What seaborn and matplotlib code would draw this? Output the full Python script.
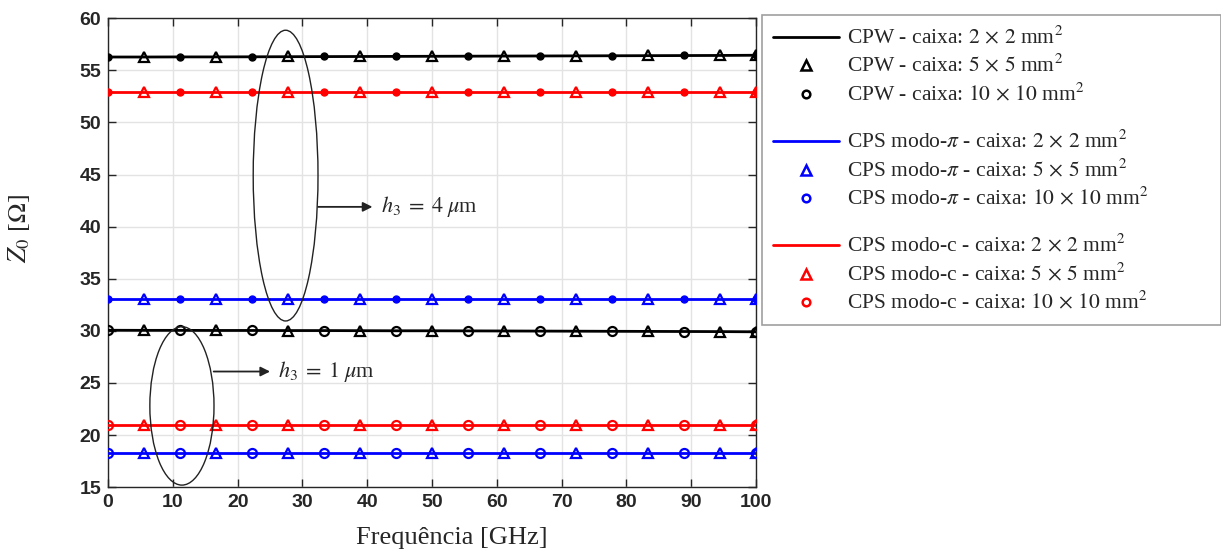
import matplotlib
matplotlib.use("Agg")
import matplotlib.pyplot as plt
from matplotlib.lines import Line2D
from matplotlib.patches import Ellipse
import seaborn as sns

# Frequency grid [GHz]
freq = [0.0, 5.56, 11.11, 16.67, 22.22, 27.78, 33.33, 38.89, 44.44, 50.0,
        55.56, 61.11, 66.67, 72.22, 77.78, 83.33, 88.89, 94.44, 100.0]
freq_5x5 = [5.56, 16.67, 27.78, 38.89, 50.0, 61.11, 72.22, 83.33, 94.44, 100.0]
freq_10x10 = [0.0, 11.11, 22.22, 33.33, 44.44, 55.56, 66.67, 77.78, 88.89, 100.0]

# h3 = 4 um
cpw_h4_2x2 = [56.28, 56.28, 56.29, 56.29, 56.30, 56.31, 56.32, 56.33, 56.34, 56.35,
              56.36, 56.37, 56.38, 56.39, 56.40, 56.41, 56.42, 56.43, 56.45]
cpw_h4_5x5 = [56.30, 56.31, 56.33, 56.35, 56.37, 56.39, 56.41, 56.44, 56.48, 56.46]
cpw_h4_10x10 = [56.28, 56.29, 56.31, 56.33, 56.35, 56.37, 56.39, 56.41, 56.43, 56.45]

cpsc_h4_2x2 = [52.93, 52.93, 52.93, 52.93, 52.93, 52.93, 52.93, 52.93, 52.93, 52.93,
               52.93, 52.93, 52.93, 52.93, 52.93, 52.93, 52.93, 52.93, 52.93]
cpsc_h4_5x5 = [52.93, 52.93, 52.93, 52.93, 52.93, 52.93, 52.93, 52.93, 52.93, 52.93]
cpsc_h4_10x10 = [52.93, 52.93, 52.93, 52.93, 52.93, 52.93, 52.93, 52.93, 52.93, 52.93]

cpspi_h4_2x2 = [33.02, 33.02, 33.02, 33.02, 33.02, 33.02, 33.02, 33.02, 33.02, 33.02,
                33.02, 33.02, 33.02, 33.02, 33.02, 33.02, 33.02, 33.02, 33.02]
cpspi_h4_5x5 = [33.02, 33.02, 33.02, 33.02, 33.02, 33.02, 33.02, 33.02, 33.02, 33.02]
cpspi_h4_10x10 = [33.02, 33.02, 33.02, 33.02, 33.02, 33.02, 33.02, 33.02, 33.02, 33.02]

# h3 = 1 um
cpw_h1_2x2 = [30.06, 30.05, 30.05, 30.04, 30.04, 30.03, 30.03, 30.02, 30.01, 30.01,
              30.00, 29.99, 29.98, 29.97, 29.96, 29.95, 29.94, 29.93, 29.91]
cpw_h1_5x5 = [30.05, 30.04, 30.03, 30.02, 30.01, 29.99, 29.97, 29.95, 29.93, 29.91]
cpw_h1_10x10 = [30.06, 30.05, 30.04, 30.03, 30.01, 30.00, 29.98, 29.96, 29.94, 29.91]

cpsc_h1_2x2 = [20.98, 20.98, 20.98, 20.98, 20.98, 20.98, 20.98, 20.98, 20.98, 20.98,
               20.98, 20.98, 20.98, 20.98, 20.98, 20.98, 20.98, 20.98, 20.98]
cpsc_h1_5x5 = [20.98, 20.98, 20.98, 20.98, 20.98, 20.98, 20.98, 20.98, 20.98, 20.98]
cpsc_h1_10x10 = [20.98, 20.98, 20.98, 20.98, 20.98, 20.98, 20.98, 20.98, 20.98, 20.98]

cpspi_h1_2x2 = [18.27, 18.27, 18.27, 18.27, 18.27, 18.27, 18.27, 18.27, 18.27, 18.27,
                18.27, 18.27, 18.27, 18.27, 18.27, 18.27, 18.27, 18.27, 18.27]
cpspi_h1_5x5 = [18.27, 18.27, 18.27, 18.27, 18.27, 18.27, 18.27, 18.27, 18.27, 18.27]
cpspi_h1_10x10 = [18.27, 18.27, 18.27, 18.27, 18.27, 18.27, 18.27, 18.27, 18.27, 18.27]

legend_labels = [
    r"CPW - caixa: $2\,\times\,2$ mm$^2$",
    r"CPW - caixa: $5\,\times\,5$ mm$^2$",
    r"CPW - caixa: $10\,\times\,10$ mm$^2$",
    r"CPS modo-$\pi$ - caixa: $2\,\times\,2$ mm$^2$",
    r"CPS modo-$\pi$ - caixa: $5\,\times\,5$ mm$^2$",
    r"CPS modo-$\pi$ - caixa: $10\,\times\,10$ mm$^2$",
    r"CPS modo-c - caixa: $2\,\times\,2$ mm$^2$",
    r"CPS modo-c - caixa: $5\,\times\,5$ mm$^2$",
    r"CPS modo-c - caixa: $10\,\times\,10$ mm$^2$",
]

sns.set_style("ticks")
plt.rcParams["font.family"] = ["Liberation Serif", "DejaVu Serif"]
plt.rcParams["mathtext.fontset"] = "stix"

BLACK, BLUE, RED = "#000000", "#0000ff", "#ff0000"

fig = plt.figure(figsize=(12.21, 5.53), dpi=100)
ax = fig.add_axes([0.0885, 0.119, 0.5307, 0.848])

groups = [
    (BLACK, cpw_h4_2x2, cpw_h4_5x5, cpw_h4_10x10, True),
    (RED, cpsc_h4_2x2, cpsc_h4_5x5, cpsc_h4_10x10, True),
    (BLUE, cpspi_h4_2x2, cpspi_h4_5x5, cpspi_h4_10x10, True),
    (BLACK, cpw_h1_2x2, cpw_h1_5x5, cpw_h1_10x10, False),
    (RED, cpsc_h1_2x2, cpsc_h1_5x5, cpsc_h1_10x10, False),
    (BLUE, cpspi_h1_2x2, cpspi_h1_5x5, cpspi_h1_10x10, False),
]

for color, y22, y55, y1010, filled in groups:
    sns.lineplot(x=freq, y=y22, color=color, linewidth=2.0, ax=ax, zorder=3)
    sns.lineplot(x=freq_5x5, y=y55, ax=ax, linestyle="", marker="^",
                 markersize=7.5, markerfacecolor="none", markeredgecolor=color,
                 markeredgewidth=1.6, zorder=4)
    if filled:
        sns.lineplot(x=freq_10x10, y=y1010, ax=ax, linestyle="", marker="o",
                     markersize=5, markerfacecolor=color, markeredgecolor=color,
                     markeredgewidth=1.0, zorder=4)
    else:
        sns.lineplot(x=freq_10x10, y=y1010, ax=ax, linestyle="", marker="o",
                     markersize=6.5, markerfacecolor="none", markeredgecolor=color,
                     markeredgewidth=1.6, zorder=4)

ax.set_xlim(0, 100)
ax.set_ylim(15, 60)
ax.set_xticks(range(0, 101, 10))
ax.set_yticks(range(15, 61, 5))
ax.grid(True, color="#e3e3e3", linewidth=1.0, zorder=0)
ax.tick_params(direction="in", top=True, right=True, length=6, width=1.0,
               colors="#262626", pad=5)
for lab in ax.get_xticklabels() + ax.get_yticklabels():
    lab.set_fontfamily("Liberation Sans")
    lab.set_fontweight("bold")
    lab.set_fontsize(14)
    lab.set_color("#262626")
for sp in ax.spines.values():
    sp.set_visible(True)
    sp.set_color("#262626")
    sp.set_linewidth(1.0)

ax.set_xlabel("Frequência [GHz]", fontsize=19)
ax.set_ylabel(r"$Z_0$ [$\Omega$]", fontsize=19)
ax.xaxis.set_label_coords(0.53, -0.084)
ax.yaxis.set_label_coords(-0.118, 0.552)

# Ellipses grouping the two substrate thicknesses
ax.add_patch(Ellipse((27.4, 44.9), 10.0, 27.9, fill=False, edgecolor="#222222",
                     linewidth=1.0, zorder=5))
ax.add_patch(Ellipse((11.4, 22.8), 9.9, 15.2, fill=False, edgecolor="#222222",
                     linewidth=1.0, zorder=5))

ax.annotate("", xy=(40.8, 41.9), xytext=(32.4, 41.9),
            arrowprops=dict(arrowstyle="-|>", color="#222222", lw=1.3,
                            mutation_scale=14, shrinkA=0, shrinkB=0), zorder=6)
ax.text(42.1, 41.9, r"$h_3\;=\;4\;\mu$m", fontsize=16, va="center", ha="left", zorder=6)
ax.annotate("", xy=(25.0, 26.1), xytext=(16.3, 26.1),
            arrowprops=dict(arrowstyle="-|>", color="#222222", lw=1.3,
                            mutation_scale=14, shrinkA=0, shrinkB=0), zorder=6)
ax.text(26.3, 26.1, r"$h_3\;=\;1\;\mu$m", fontsize=16, va="center", ha="left", zorder=6)

# Legend outside the axes, three groups separated by short blank rows
def line_handle(c):
    return Line2D([], [], color=c, linewidth=2.0)

def marker_handle(c, m):
    return Line2D([], [], color=c, linestyle="", marker=m,
                  markersize=6.5 if m == "^" else 5.5,
                  markerfacecolor="none", markeredgecolor=c, markeredgewidth=1.8)

blank = Line2D([], [], alpha=0)
handles = [line_handle(BLACK), marker_handle(BLACK, "^"), marker_handle(BLACK, "o"), blank,
           line_handle(BLUE), marker_handle(BLUE, "^"), marker_handle(BLUE, "o"), blank,
           line_handle(RED), marker_handle(RED, "^"), marker_handle(RED, "o")]
labels = (legend_labels[0:3] + [" "] + legend_labels[3:6] + [" "] + legend_labels[6:9])

leg = fig.legend(handles, labels, loc="upper left",
                 bbox_to_anchor=(0.624, 0.412, 0.376, 0.561), mode="expand",
                 borderaxespad=0, frameon=True, fancybox=False,
                 prop={"family": "Liberation Serif", "size": 15.5},
                 handlelength=3.1, handleheight=0.3, handletextpad=0.35,
                 labelspacing=0.29, borderpad=0.5)
for i in (3, 7):
    leg.get_texts()[i].set_fontsize(1)
leg.get_frame().set_edgecolor("#888888")
leg.get_frame().set_linewidth(1.2)

fig.savefig("out.png", dpi=100)
